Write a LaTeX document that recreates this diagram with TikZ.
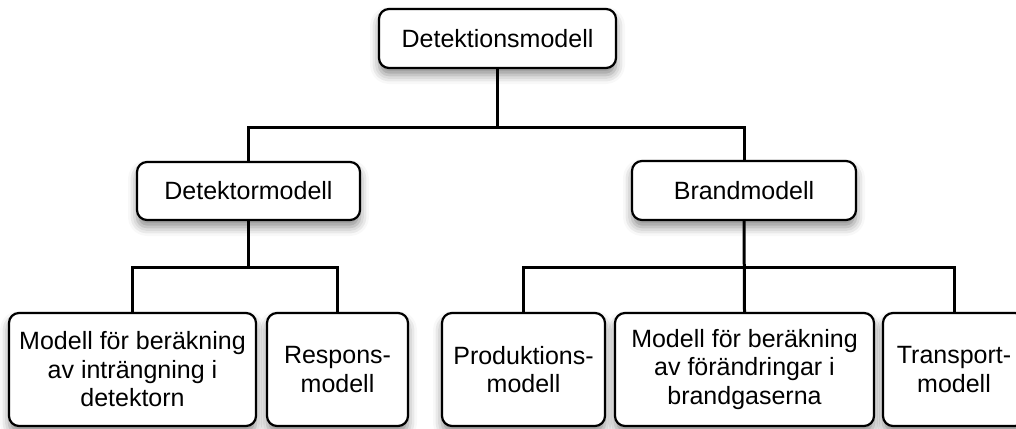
\documentclass[tikz,border=0pt]{standalone}
\usepackage{fontspec}
\setmainfont{Liberation Sans}
\usetikzlibrary{shadows.blur}
\begin{document}
\begin{tikzpicture}[x=1pt,y=-1pt,
  box/.style={draw=black, line width=2.2pt, rounded corners=10pt, fill=white,
    inner sep=0pt, align=center,
    font=\fontsize{25}{28.5}\selectfont,
    blur shadow={shadow xshift=0pt, shadow yshift=-7pt, shadow blur radius=9pt, shadow opacity=45}},
  conn/.style={draw=black, line width=3pt}]
\useasboundingbox (0,0) rectangle (1016,428);
\node[box, minimum width=237pt, minimum height=59pt] (top) at (497.5,38.5) {Detektionsmodell};
\node[box, minimum width=223pt, minimum height=58pt] (det) at (248.5,191) {Detektormodell};
\node[box, minimum width=224pt, minimum height=59pt] (brand) at (744,190.5) {Brandmodell};
\node[box, minimum width=247pt, minimum height=113pt] (b1) at (132.5,369.5) {Modell för beräkning\\av inträngning i\\detektorn};
\node[box, minimum width=141pt, minimum height=113pt] (b2) at (337.5,369.5) {Respons-\\modell};
\node[box, minimum width=163pt, minimum height=113pt] (b3) at (523.5,369.5) {Produktions-\\modell};
\node[box, minimum width=259pt, minimum height=113pt] (b4) at (744.5,369.5) {Modell för beräkning\\av förändringar i\\brandgaserna};
\node[box, minimum width=142pt, minimum height=113pt] (b5) at (954,369.5) {Transport-\\modell};
\coordinate (j1) at (497.5,127);
\coordinate (j2) at (248.5,267);
\coordinate (j3) at (744,267);
\draw[conn] (top.south) -- (j1);
\draw[conn] (det.north) |- (j1);
\draw[conn] (brand.north) |- (j1);
\draw[conn] (det.south) -- (j2);
\draw[conn] (b1.north) |- (j2);
\draw[conn] (b2.north) |- (j2);
\draw[conn] (brand.south) -- (b4.north);
\draw[conn] (b3.north) |- (j3);
\draw[conn] (b5.north) |- (j3);
\end{tikzpicture}
\end{document}
